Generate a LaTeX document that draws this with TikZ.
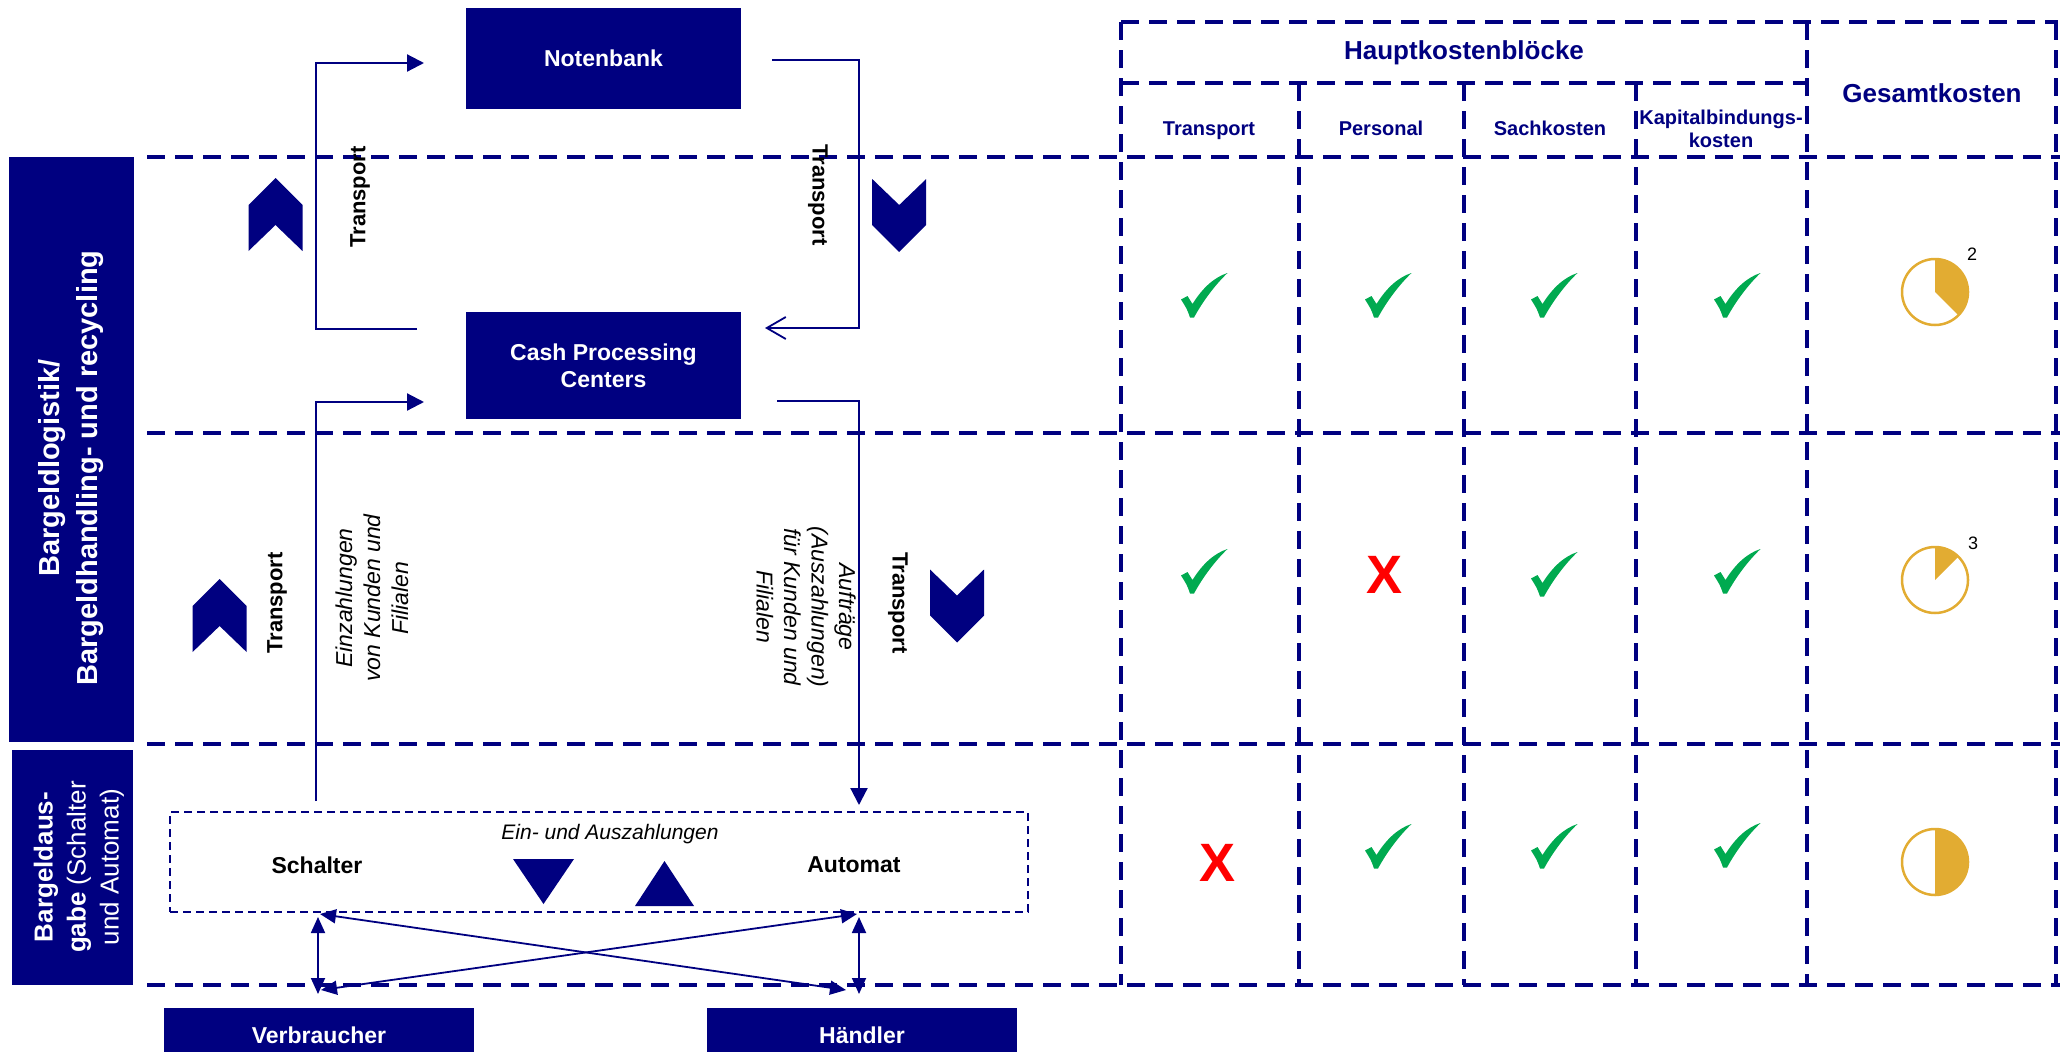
\documentclass[tikz,border=0pt]{standalone}
\usepackage{fontspec}
\setmainfont{Liberation Sans}
\usetikzlibrary{arrows.meta}
\definecolor{navy}{RGB}{0,0,128}
\definecolor{okgreen}{RGB}{0,170,80}
\definecolor{gold}{RGB}{226,172,50}
\definecolor{xred}{RGB}{255,0,0}
\newcommand\fsz[2]{\fontsize{#1}{#2}\selectfont}
\begin{document}
\begin{tikzpicture}[x=1pt,y=-1pt,
  bluebox/.style={fill=navy,text=white,font=\fsz{23}{27}\bfseries,align=center,inner sep=0pt},
  sidebox/.style={fill=navy,inner sep=0pt},
  conn/.style={draw=navy,line width=2.2pt},
  arrowend/.style={-{Triangle[length=17pt,width=17pt]}},
  dbl/.style={draw=navy,line width=1.8pt,{Triangle[length=16pt,width=14pt]}-{Triangle[length=16pt,width=14pt]}},
  gridline/.style={draw=navy,line width=3.5pt,dash pattern=on 18pt off 10pt},
  lbl/.style={inner sep=0pt,align=center},
  rotlbl/.style={lbl,font=\fsz{22}{26}\bfseries},
  itlbl/.style={lbl,font=\fsz{23}{28}\itshape},
  hdr/.style={lbl,text=navy,font=\fsz{20}{23}\bfseries},
  bighdr/.style={lbl,text=navy,font=\fsz{26}{30}\bfseries},
  redx/.style={lbl,text=xred,font=\fsz{54}{54}\bfseries},
  okmark/.pic={\fill[okgreen] (0,26.5) -- (6.5,23) -- (11.5,31) .. controls (22,14) and (34,4) .. (46.5,0) .. controls (34,12) and (22,28) .. (13,44.5) -- (9,44.5) .. controls (6,36) .. (0,26.5) -- cycle;},
  chev/.pic={\fill[navy] (0,-36.5) -- (27,-9.5) -- (27,36.5) -- (0,10.5) -- (-27,36.5) -- (-27,-9.5) -- cycle;}
]
\useasboundingbox (0,0) rectangle (2064,1052);
\clip (0,0) rectangle (2064,1052);

% grid lines
\draw[gridline] (147,157) -- (2060,157);
\draw[gridline] (147,433) -- (2060,433);
\draw[gridline] (147,744) -- (2060,744);
\draw[gridline] (147,985) -- (2060,985);
\draw[gridline] (1121,22) -- (2058,22);
\draw[gridline] (1121,83) -- (1807,83);
\draw[gridline] (1121,22) -- (1121,985);
\draw[gridline] (1807,22) -- (1807,985);
\draw[gridline] (2056,22) -- (2056,985);
\draw[gridline] (1299,83) -- (1299,985);
\draw[gridline] (1464,83) -- (1464,985);
\draw[gridline] (1636,83) -- (1636,985);

% side bars
\node[sidebox,minimum width=125pt,minimum height=585pt] (sb1) at (71.5,449.5) {};
\node[lbl,text=white,rotate=90,font=\fsz{29}{38}\bfseries] (sb1t) at (71,468) {Bargeldlogistik/\\Bargeldhandling- und recycling};
\node[sidebox,minimum width=121pt,minimum height=235pt] (sb2) at (72.5,867.5) {};
\node[lbl,text=white,rotate=90,font=\fsz{26}{33}\selectfont] (sb2t) at (79,867) {\textbf{Bargeldaus-}\\\textbf{gabe} (Schalter\\und Automat)};

% main boxes
\node[bluebox,minimum width=275pt,minimum height=101pt] (nb) at (603.5,58.5) {Notenbank};
\node[bluebox,minimum width=275pt,minimum height=107pt] (cpc) at (603.5,365.5) {Cash Processing\\Centers};
\node[bluebox,minimum width=310pt,minimum height=54pt] (verb) at (319,1035) {Verbraucher};
\node[bluebox,minimum width=310pt,minimum height=54pt] (hand) at (862,1035) {Händler};

% connectors
\coordinate (c1s) at (417,329);
\coordinate (c1e) at (424,63);
\draw[conn,arrowend] (c1s) -- ++(-101,0) |- (c1e);
\coordinate (c2s) at (772,60);
\coordinate (c2e) at (765,328);
\draw[conn,-{Straight Barb[length=19pt,width=22pt,line width=1.8pt]}] (c2s) -- ++(87,0) |- (c2e);
\coordinate (c3s) at (316,801);
\coordinate (c3e) at (424,402);
\draw[conn,arrowend] (c3s) |- (c3e);
\coordinate (c4s) at (777,401);
\coordinate (c4e) at (859,805);
\draw[conn,arrowend] (c4s) -| (c4e);

% chevrons
\pic at (275.5,214.5) {chev};
\pic[yscale=-1] at (899.2,215.5) {chev};
\pic at (219.6,615.5) {chev};
\pic[yscale=-1] at (957,606) {chev};

% rotated labels
\node[rotlbl,rotate=90] (t1) at (360,197) {Transport};
\node[rotlbl,rotate=-90] (t2) at (818,195) {Transport};
\node[rotlbl,rotate=90] (t3) at (277,603) {Transport};
\node[rotlbl,rotate=-90] (t4) at (898,603) {Transport};
\node[itlbl,rotate=90] (einz) at (372,598) {Einzahlungen\\von Kunden und\\Filialen};
\node[itlbl,rotate=-90,font=\fsz{23}{27.5}\itshape] (auf) at (806,607) {Aufträge\\(Auszahlungen)\\für Kunden und\\Filialen};

% Schalter / Automat box
\node[draw=navy,line width=1.6pt,dash pattern=on 8pt off 5pt,minimum width=858pt,minimum height=100pt,inner sep=0pt] (zahl) at (599,862) {};
\node[lbl,font=\fsz{21}{25}\itshape] (ein) at (610,834) {Ein- und Auszahlungen};
\node[lbl,font=\fsz{23}{27}\bfseries] (schalter) at (317,865) {Schalter};
\node[lbl,font=\fsz{23}{27}\bfseries] (automat) at (854,865) {Automat};
\fill[navy] (513,859) -- (574,859) -- (543.5,904) -- cycle;
\fill[navy] (635,906) -- (694,906) -- (664.5,861) -- cycle;

% double arrows
\coordinate (va) at (318,917);
\coordinate (vb) at (318,994);
\coordinate (ha) at (859,917);
\coordinate (hb) at (859,994);
\coordinate (xa1) at (320,914);
\coordinate (xb1) at (846,990);
\coordinate (xa2) at (857,914);
\coordinate (xb2) at (321,990);
\draw[dbl] (va) -- (vb);
\draw[dbl] (ha) -- (hb);
\draw[dbl] (xa1) -- (xb1);
\draw[dbl] (xa2) -- (xb2);

% table header
\node[bighdr] (hkb) at (1464,53) {Hauptkostenblöcke};
\node[bighdr] (gk) at (1932,93) {Gesamtkosten};
\node[hdr] (htr) at (1209,131) {Transport};
\node[hdr] (hpe) at (1381,128) {Personal};
\node[hdr] (hsa) at (1550,128) {Sachkosten};
\node[hdr] (hka) at (1721,129) {Kapitalbindungs-\\kosten};

% marks
\pic at (1181,273) {okmark};
\pic at (1365,273) {okmark};
\pic at (1531,273) {okmark};
\pic at (1714,273) {okmark};
\pic at (1181,549) {okmark};
\node[redx] (x1) at (1384,575) {X};
\pic at (1531,552) {okmark};
\pic at (1714,549) {okmark};
\node[redx] (x2) at (1217,863) {X};
\pic at (1365,824) {okmark};
\pic at (1531,824) {okmark};
\pic at (1714,823) {okmark};

% pies
\coordinate (p1) at (1935,292);
\coordinate (p2) at (1935,580);
\coordinate (p3) at (1935,862);
\fill[gold] (p1) -- ++(-90:33) arc[start angle=-90,end angle=45,radius=33] -- cycle;
\draw[gold,line width=2.5pt] (p1) circle[radius=33];
\fill[gold] (p2) -- ++(-90:33) arc[start angle=-90,end angle=-45,radius=33] -- cycle;
\draw[gold,line width=2.5pt] (p2) circle[radius=33];
\fill[gold] (p3) -- ++(-90:33) arc[start angle=-90,end angle=90,radius=33] -- cycle;
\draw[gold,line width=2.5pt] (p3) circle[radius=33];
\node[lbl,font=\fsz{18}{20}] (n2) at (1972,254) {2};
\node[lbl,font=\fsz{18}{20}] (n3) at (1973,543) {3};
\end{tikzpicture}
\end{document}
